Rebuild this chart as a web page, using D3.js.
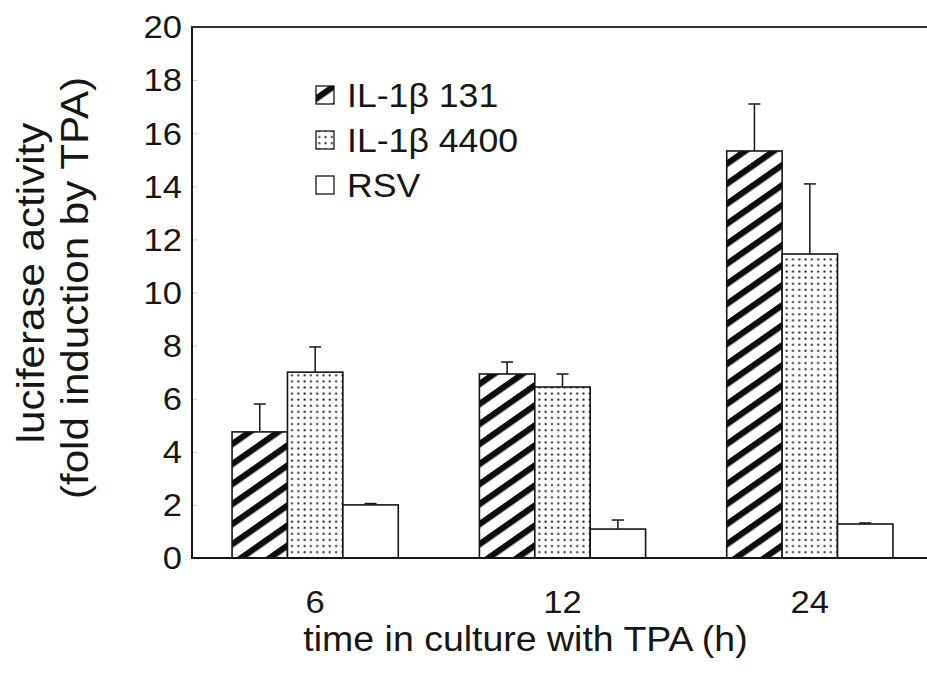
<!DOCTYPE html>
<html>
<head>
<meta charset="utf-8">
<script src="https://cdn.jsdelivr.net/npm/d3@7/dist/d3.min.js"></script>
<style>
  html, body { margin: 0; padding: 0; background: #fff; }
  svg { display: block; }
  text { font-family: "Liberation Sans", Arial, sans-serif; fill: #161616; }
</style>
</head>
<body>
<svg id="chart" width="927" height="681"></svg>
<script>
// Time points (h) and series
const categories = ["6", "12", "24"];
const seriesNames = ["IL-1\u03b2 131", "IL-1\u03b2 4400", "RSV"];

// Mean fold induction and upper error (SD) per time point
const il131 = [4.75, 6.93, 15.33];
const il131Err = [1.05, 0.45, 1.77];
const il4400 = [7.0, 6.44, 11.45];
const il4400Err = [0.95, 0.49, 2.64];
const rsv = [2.0, 1.09, 1.28];
const rsvErr = [0.05, 0.34, 0.04];

const yTicks = [0, 2, 4, 6, 8, 10, 12, 14, 16, 18, 20];

const seriesValues = [il131, il4400, rsv];
const seriesErrors = [il131Err, il4400Err, rsvErr];
const fills = ["url(#hatch)", "url(#dots)", "#fff"];

const svg = d3.select("#chart");
const W = 927, H = 681;
const plot = { left: 192, top: 27, right: 933, bottom: 558 };
const INK = "#161616";
const WIDE = 1.08;   // horizontal stretch of the lettering

// Fill patterns
const defs = svg.append("defs");
const hatch = defs.append("pattern")
  .attr("id", "hatch")
  .attr("patternUnits", "userSpaceOnUse")
  .attr("width", 12).attr("height", 16.4)
  .attr("patternTransform", "rotate(-35)");
hatch.append("rect").attr("width", 12).attr("height", 16.4).attr("fill", "#fff");
hatch.append("rect").attr("y", 0).attr("width", 12).attr("height", 6.2).attr("fill", "#0d0d0d");

const dots = defs.append("pattern")
  .attr("id", "dots")
  .attr("patternUnits", "userSpaceOnUse")
  .attr("width", 6.3).attr("height", 6.1);
dots.append("rect").attr("width", 6.3).attr("height", 6.1).attr("fill", "#fff");
dots.append("rect").attr("x", 2.3).attr("y", 2.2).attr("width", 1.9).attr("height", 1.9).attr("fill", "#111");

// Scales
const x = d3.scaleBand()
  .domain(categories)
  .range([plot.left, plot.right])
  .paddingInner(0.328)
  .paddingOuter(0.162);

const xSub = d3.scaleBand()
  .domain(d3.range(seriesNames.length))
  .range([0, x.bandwidth()]);

const y = d3.scaleLinear().domain([0, 20]).range([plot.bottom, plot.top]);

// Faint inward ticks on the value axis
const yAxis = d3.axisLeft(y).tickValues(yTicks).tickSizeInner(-5).tickSizeOuter(0).tickFormat("");
const gy = svg.append("g").attr("transform", `translate(${plot.left},0)`).call(yAxis);
gy.select(".domain").remove();
gy.selectAll(".tick line").attr("stroke", "#c8c8c8").attr("stroke-width", 1);

// Value-axis labels
svg.append("g").selectAll("text")
  .data(yTicks)
  .join("text")
  .attr("transform", d => `translate(182,${y(d) + 11.3}) scale(${WIDE},1)`)
  .attr("text-anchor", "end")
  .attr("font-size", 32)
  .text(d => d);

// Bars
const groups = svg.append("g").selectAll("g")
  .data(categories)
  .join("g")
  .attr("transform", d => `translate(${x(d)},0)`);

groups.selectAll("rect")
  .data((d, i) => seriesValues.map((vals, s) => ({ s, v: vals[i], e: seriesErrors[s][i] })))
  .join("rect")
  .attr("x", d => xSub(d.s))
  .attr("y", d => y(d.v))
  .attr("width", xSub.bandwidth())
  .attr("height", d => y(0) - y(d.v))
  .attr("fill", d => fills[d.s])
  .attr("stroke", INK)
  .attr("stroke-width", 1.6);

// Upper error bars
const err = groups.selectAll("g.err")
  .data((d, i) => seriesValues.map((vals, s) => ({ s, v: vals[i], e: seriesErrors[s][i] })))
  .join("g")
  .attr("class", "err");
err.append("line")
  .attr("x1", d => xSub(d.s) + xSub.bandwidth() / 2)
  .attr("x2", d => xSub(d.s) + xSub.bandwidth() / 2)
  .attr("y1", d => y(d.v))
  .attr("y2", d => y(d.v + d.e))
  .attr("stroke", INK).attr("stroke-width", 1.5);
err.append("line")
  .attr("x1", d => xSub(d.s) + xSub.bandwidth() / 2 - 6)
  .attr("x2", d => xSub(d.s) + xSub.bandwidth() / 2 + 6)
  .attr("y1", d => y(d.v + d.e))
  .attr("y2", d => y(d.v + d.e))
  .attr("stroke", INK).attr("stroke-width", 1.5);

// Frame: left axis, baseline and top rule
svg.append("line")
  .attr("x1", plot.left).attr("x2", plot.left)
  .attr("y1", plot.top).attr("y2", plot.bottom)
  .attr("stroke", INK).attr("stroke-width", 2);
svg.append("line")
  .attr("x1", plot.left - 1).attr("x2", W)
  .attr("y1", plot.bottom).attr("y2", plot.bottom)
  .attr("stroke", INK).attr("stroke-width", 2);
svg.append("line")
  .attr("x1", plot.left - 1).attr("x2", W)
  .attr("y1", plot.top).attr("y2", plot.top)
  .attr("stroke", "#333").attr("stroke-width", 2);

// Category labels
svg.append("g").selectAll("text")
  .data(categories)
  .join("text")
  .attr("transform", d => `translate(${x(d) + x.bandwidth() / 2},613) scale(${WIDE},1)`)
  .attr("text-anchor", "middle")
  .attr("font-size", 32)
  .text(d => d);

// Axis titles
svg.append("text")
  .attr("transform", `translate(${(303 + 748) / 2},651) scale(${WIDE},1)`)
  .attr("text-anchor", "middle")
  .attr("font-size", 34.7)
  .text("time in culture with TPA (h)");

svg.append("text")
  .attr("transform", `translate(44,283) rotate(-90) scale(${WIDE},1)`)
  .attr("text-anchor", "middle")
  .attr("font-size", 39)
  .text("luciferase activity");
svg.append("text")
  .attr("transform", `translate(88,288) rotate(-90) scale(${WIDE},1)`)
  .attr("text-anchor", "middle")
  .attr("font-size", 39)
  .text("(fold induction by TPA)");

// Legend
const legendRows = [95, 140, 185];
const legend = svg.append("g").selectAll("g")
  .data(seriesNames)
  .join("g")
  .attr("transform", (d, i) => `translate(316,${legendRows[i]})`);
legend.append("rect")
  .attr("x", 0).attr("y", -9)
  .attr("width", 18).attr("height", 18)
  .attr("fill", (d, i) => fills[i])
  .attr("stroke", INK).attr("stroke-width", 1.3);
legend.append("text")
  .attr("transform", `translate(31,12) scale(${WIDE},1)`)
  .attr("font-size", 33)
  .text(d => d);
</script>
</body>
</html>
